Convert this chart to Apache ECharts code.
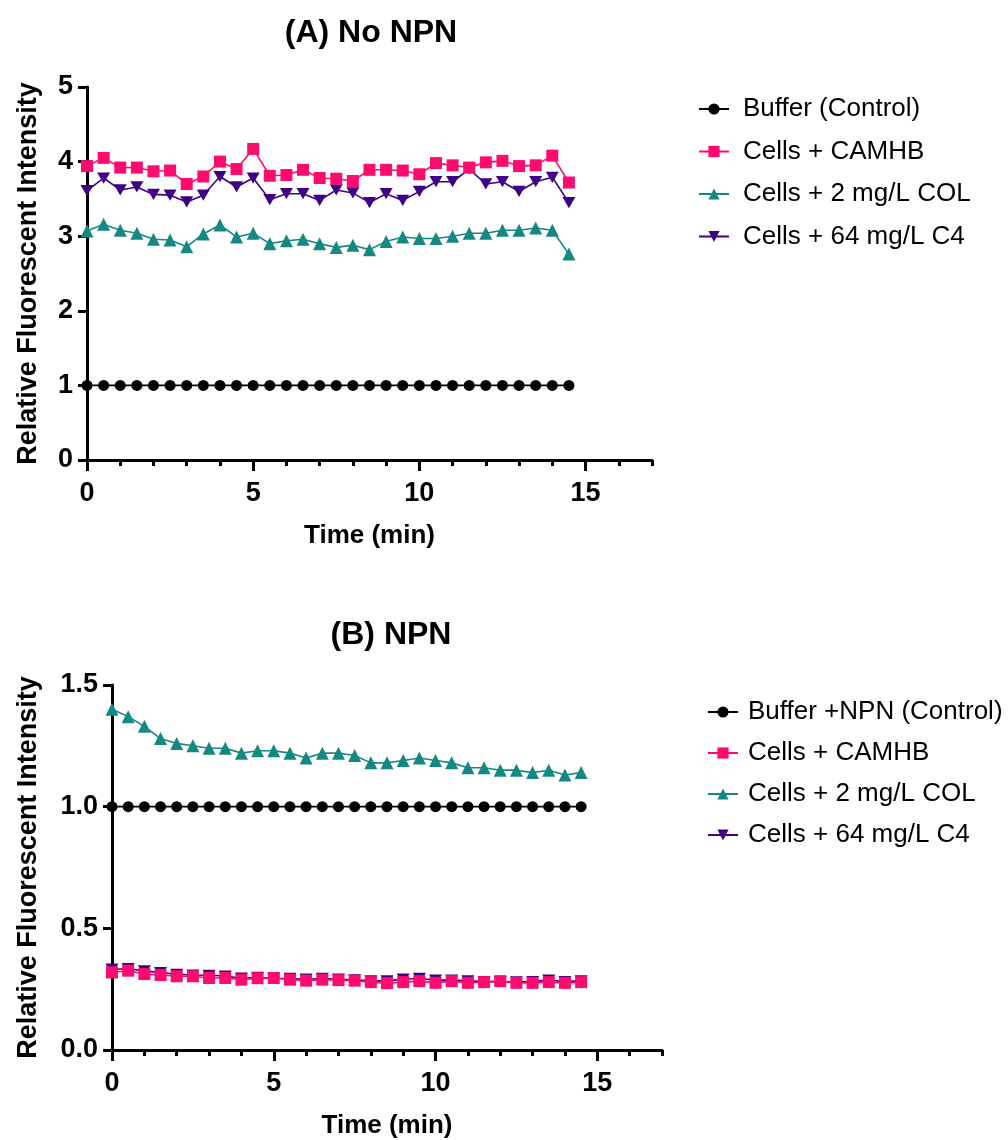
<!DOCTYPE html>
<html><head><meta charset="utf-8">
<script src="https://cdn.jsdelivr.net/npm/echarts@6/dist/echarts.min.js"></script>
<style>html,body{margin:0;padding:0;background:#fff}#c{width:1008px;height:1140px}</style>
</head><body><div id="c"></div>
<script>
// ---- data ----
const time = [0,0.5,1,1.5,2,2.5,3,3.5,4,4.5,5,5.5,6,6.5,7,7.5,8,8.5,9,9.5,10,10.5,11,11.5,12,12.5,13,13.5,14,14.5];
const xMajorTicks = [0,5,10,15];

const namesA = ['Buffer (Control)','Cells + CAMHB','Cells + 2 mg/L COL','Cells + 64 mg/L C4'];
const namesB = ['Buffer +NPN (Control)','Cells + CAMHB','Cells + 2 mg/L COL','Cells + 64 mg/L C4'];

const aBuffer = [1,1,1,1,1,1,1,1,1,1,1,1,1,1,1,1,1,1,1,1,1,1,1,1,1,1,1,1,1,1];
const aCamhb  = [3.94,4.05,3.92,3.92,3.87,3.88,3.70,3.80,4.00,3.90,4.17,3.81,3.82,3.89,3.78,3.77,3.74,3.89,3.89,3.88,3.83,3.98,3.95,3.92,3.99,4.01,3.94,3.95,4.08,3.72];
const aCol    = [3.07,3.16,3.08,3.04,2.96,2.95,2.86,3.03,3.15,2.99,3.04,2.90,2.94,2.96,2.90,2.85,2.88,2.82,2.93,2.99,2.97,2.97,3.00,3.04,3.04,3.08,3.08,3.11,3.08,2.76];
const aC4     = [3.61,3.78,3.62,3.66,3.56,3.55,3.46,3.55,3.80,3.66,3.78,3.49,3.57,3.57,3.48,3.62,3.58,3.45,3.57,3.48,3.60,3.73,3.73,3.90,3.70,3.73,3.60,3.73,3.79,3.45];

const bBuffer = [1,1,1,1,1,1,1,1,1,1,1,1,1,1,1,1,1,1,1,1,1,1,1,1,1,1,1,1,1,1];
const bCamhb  = [0.319,0.326,0.312,0.308,0.303,0.303,0.296,0.296,0.289,0.295,0.296,0.289,0.285,0.289,0.287,0.285,0.279,0.275,0.279,0.283,0.276,0.283,0.276,0.279,0.283,0.276,0.276,0.279,0.276,0.279];
const bCol    = [1.40,1.37,1.33,1.28,1.26,1.25,1.24,1.24,1.22,1.23,1.23,1.22,1.20,1.22,1.22,1.21,1.18,1.18,1.19,1.20,1.19,1.18,1.16,1.16,1.15,1.15,1.14,1.15,1.13,1.14];
const bC4     = [0.332,0.334,0.325,0.318,0.311,0.308,0.307,0.304,0.295,0.298,0.295,0.294,0.291,0.294,0.291,0.288,0.284,0.284,0.291,0.294,0.287,0.287,0.284,0.281,0.281,0.280,0.281,0.287,0.281,0.284];

// ---- styles ----
const C = {buffer:'#000000', camhb:'#FF0A6E', col:'#168882', c4:'#3E0085'};
const FONT = "'Liberation Sans', Arial, Helvetica, sans-serif";
const DOWN = 'path://M0,0L10,0L5,8.66Z';

function mk(name, vals, g, symbol, color, size, z) {
  return {
    type:'line', name, xAxisIndex:g*2, yAxisIndex:g,
    data: time.map((t,i)=>[t, vals[i]]),
    symbol, symbolSize:size, symbolKeepAspect:true,
    lineStyle:{color, width:1.6}, itemStyle:{color, opacity:1},
    z, animation:false, emphasis:{disabled:true}
  };
}

const grids = [
  {left:87, top:87, width:565, height:373},
  {left:112, top:685, width:550, height:368}
];

function xAxes(g) {
  return [
    {type:'value', gridIndex:g, min:0, max:17, interval:1, position:'bottom',
     name:'Time (min)', nameLocation:'middle', nameGap:63,
     nameTextStyle:{fontFamily:FONT, fontWeight:'bold', fontSize:26, color:'#000'},
     axisLine:{show:true, onZero:false, lineStyle:{color:'#000', width:3}},
     axisTick:{show:true, length:6, lineStyle:{color:'#000', width:3}},
     axisLabel:{show:true, margin:20, fontFamily:FONT, fontWeight:'bold', fontSize:27, color:'#000',
       formatter:v => (xMajorTicks.indexOf(v) >= 0 ? String(v) : '')},
     splitLine:{show:false}},
    {type:'value', gridIndex:g, min:0, max:17, interval:5, position:'bottom',
     axisLine:{show:false},
     axisTick:{show:true, length:11, customValues:xMajorTicks, lineStyle:{color:'#000', width:3}},
     axisLabel:{show:false}, splitLine:{show:false}}
  ];
}

const yA = {type:'value', gridIndex:0, min:0, max:5, interval:1,
  name:'Relative Fluorescent Intensity', nameLocation:'middle', nameGap:45, nameRotate:90,
  nameTextStyle:{fontFamily:FONT, fontWeight:'bold', fontSize:27, color:'#000'},
  axisLine:{show:true, onZero:false, lineStyle:{color:'#000', width:3}},
  axisTick:{show:true, length:9, lineStyle:{color:'#000', width:3}},
  axisLabel:{margin:14, fontFamily:FONT, fontWeight:'bold', fontSize:27, color:'#000'},
  splitLine:{show:false}};
const yB = {type:'value', gridIndex:1, min:0, max:1.5, interval:0.5,
  name:'Relative Fluorescent Intensity', nameLocation:'middle', nameGap:70, nameRotate:90,
  nameTextStyle:{fontFamily:FONT, fontWeight:'bold', fontSize:27, color:'#000'},
  axisLine:{show:true, onZero:false, lineStyle:{color:'#000', width:3}},
  axisTick:{show:true, length:9, lineStyle:{color:'#000', width:3}},
  axisLabel:{margin:14, fontFamily:FONT, fontWeight:'bold', fontSize:27, color:'#000',
    formatter:v => v.toFixed(1)},
  splitLine:{show:false}};

function legend(names, left, top, gap, fs, pad) {
  return {orient:'vertical', left, top, itemWidth:30, itemHeight:14, itemGap:gap,
    data:names, selectedMode:false,
    textStyle:{fontFamily:FONT, fontSize:fs, color:'#000', lineHeight:28, padding:[0,0,0,pad]}};
}

const option = {
  backgroundColor:'#fff',
  animation:false,
  title:[
    {text:'(A) No NPN', left:366, top:12, textAlign:'center',
     textStyle:{fontFamily:FONT, fontWeight:'bold', fontSize:32, color:'#000'}},
    {text:'(B) NPN', left:386, top:614, textAlign:'center',
     textStyle:{fontFamily:FONT, fontWeight:'bold', fontSize:32, color:'#000'}}
  ],
  legend:[
    legend(namesA, 693, 90, 14.5, 26, 9),
    legend(namesB, 702, 693, 13, 26, 5)
  ],
  grid: grids,
  xAxis: [...xAxes(0), ...xAxes(1)],
  yAxis: [yA, yB],
  series: [
    mk(namesA[0], aBuffer, 0, 'circle', C.buffer, 11, 5),
    mk(namesA[2], aCol, 0, 'triangle', C.col, 13, 3),
    mk(namesA[3], aC4, 0, DOWN, C.c4, 13, 3),
    mk(namesA[1], aCamhb, 0, 'rect', C.camhb, 12, 4),
    mk(namesB[0], bBuffer, 1, 'circle', C.buffer, 11, 5),
    mk(namesB[2], bCol, 1, 'triangle', C.col, 13, 3),
    mk(namesB[3], bC4, 1, DOWN, C.c4, 13, 3),
    mk(namesB[1], bCamhb, 1, 'rect', C.camhb, 12, 4)
  ]
};

const chart = echarts.init(document.getElementById('c'), null, {renderer:'canvas'});
chart.setOption(option);
</script>
</body></html>
